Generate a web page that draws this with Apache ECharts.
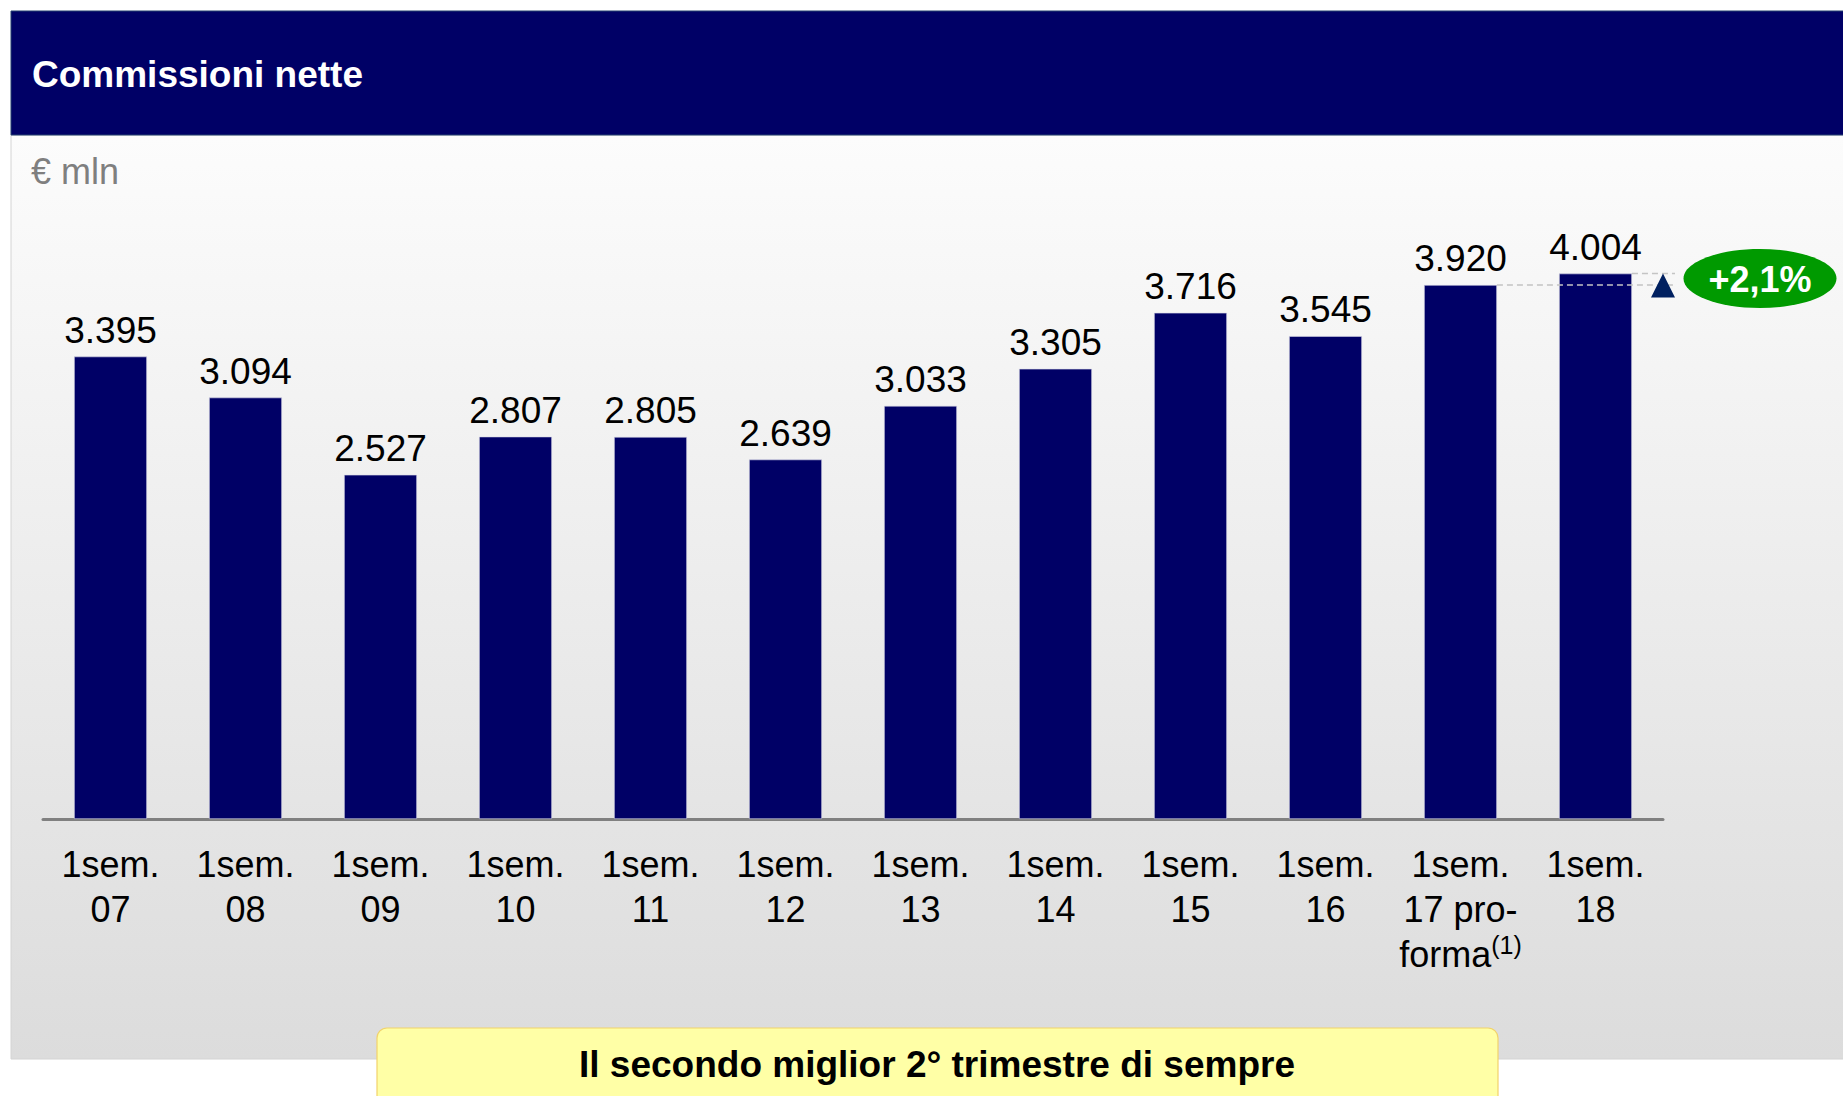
<!DOCTYPE html>
<html>
<head>
<meta charset="utf-8">
<title>Commissioni nette</title>
<script src="https://cdn.jsdelivr.net/npm/echarts@6/dist/echarts.min.js"></script>
<style>
  html, body { margin: 0; padding: 0; background: #fff; }
  #main { width: 1843px; height: 1096px; }
</style>
</head>
<body>
<div id="main"></div>
<script>
var FONT = '"Liberation Sans", Arial, sans-serif';

// dati (€ mln)
var categories = ['1sem.\n07', '1sem.\n08', '1sem.\n09', '1sem.\n10', '1sem.\n11', '1sem.\n12',
                  '1sem.\n13', '1sem.\n14', '1sem.\n15', '1sem.\n16', '1sem.\n17 pro-\nforma(1)', '1sem.\n18'];
var values = [3395, 3094, 2527, 2807, 2805, 2639, 3033, 3305, 3716, 3545, 3920, 4004];
var deltaText = '+2,1%';
var titleText = 'Commissioni nette';
var unitText = '€ mln';
var noteText = 'Il secondo miglior 2° trimestre di sempre';

function fmt(v) {
  return String(v).replace(/\B(?=(\d{3})+(?!\d))/g, '.');
}

var myChart = echarts.init(document.getElementById('main'), null, { renderer: 'svg' });

var option = {
  animation: false,
  grid: { left: 43, right: 180, top: 206, bottom: 277 },
  xAxis: {
    type: 'category',
    data: categories,
    axisLine: { lineStyle: { color: '#808080', width: 3 } },
    axisTick: { show: false },
    axisLabel: {
      interval: 0,
      margin: 23,
      color: '#000',
      fontFamily: FONT,
      fontSize: 36,
      lineHeight: 45,
      formatter: function (v) { return v.replace('(1)', '{sup|(1)}'); },
      rich: {
        sup: { fontSize: 25, lineHeight: 30, verticalAlign: 'top', fontFamily: FONT, color: '#000' }
      }
    }
  },
  yAxis: { type: 'value', min: 0, max: 4500, show: false },
  series: [{
    type: 'bar',
    data: values,
    barWidth: '54%',
    itemStyle: { color: '#000066', borderColor: '#d8d8e8', borderWidth: 0.6 },
    label: {
      show: true,
      position: 'top',
      distance: 8,
      color: '#000',
      fontFamily: FONT,
      fontSize: 37,
      formatter: function (p) { return fmt(p.value); }
    },
    z: 3
  }]
};
myChart.setOption(option);

// annotazioni calcolate dalle scale
var p11 = myChart.convertToPixel({ seriesIndex: 0 }, [10, values[10]]);
var p12 = myChart.convertToPixel({ seriesIndex: 0 }, [11, values[11]]);
var half = (p12[0] - p11[0]) * 0.54 / 2;
var dashEnd = 1675;
var triX = 1663;

var graphics = [
  // fondo pannello
  {
    type: 'rect', z: -20, silent: true,
    shape: { x: 11, y: 135, width: 1843, height: 924 },
    style: {
      fill: new echarts.graphic.LinearGradient(0, 0, 0, 1, [
        { offset: 0, color: '#fcfcfc' },
        { offset: 1, color: '#dcdcdc' }
      ]),
      stroke: '#d4d4d4', lineWidth: 1
    }
  },
  // intestazione
  {
    type: 'rect', z: -10, silent: true,
    shape: { x: 11, y: 11, width: 1843, height: 124 },
    style: { fill: '#000066', stroke: '#24406e', lineWidth: 1 }
  },
  {
    type: 'text', z: 5,
    style: { x: 32, y: 74, text: titleText, fill: '#fff', font: 'bold 37px ' + FONT, verticalAlign: 'middle' }
  },
  {
    type: 'text', z: 5,
    style: { x: 31, y: 171, text: unitText, fill: '#7f7f7f', font: '36px ' + FONT, verticalAlign: 'middle' }
  },
  // linee tratteggiate
  {
    type: 'line', z: 4, silent: true,
    shape: { x1: p11[0] + half, y1: p11[1], x2: dashEnd, y2: p11[1] },
    style: { stroke: '#c4c4c4', lineWidth: 1.5, lineDash: [6, 4] }
  },
  {
    type: 'line', z: 4, silent: true,
    shape: { x1: p12[0] + half, y1: p12[1], x2: dashEnd, y2: p12[1] },
    style: { stroke: '#c4c4c4', lineWidth: 1.5, lineDash: [6, 4] }
  },
  {
    type: 'polygon', z: 5, silent: true,
    shape: { points: [[triX, p12[1]], [triX + 12, p12[1] + 24], [triX - 12, p12[1] + 24]] },
    style: { fill: '#002060' }
  },
  // badge variazione
  {
    type: 'ellipse', z: 5,
    shape: { cx: 1760, cy: 278.5, rx: 76.5, ry: 29.5 },
    style: { fill: '#009a00' }
  },
  {
    type: 'text', z: 6,
    style: { x: 1760, y: 279, text: deltaText, fill: '#fff', font: 'bold 36px ' + FONT, align: 'center', verticalAlign: 'middle' }
  },
  // riquadro giallo
  {
    type: 'rect', z: 5,
    shape: { x: 377, y: 1028, width: 1121, height: 90, r: 10 },
    style: { fill: '#ffffa6', stroke: '#f2d36b', lineWidth: 1.2 }
  },
  {
    type: 'text', z: 6,
    style: { x: 937, y: 1064, text: noteText, fill: '#000', font: 'bold 37px ' + FONT, align: 'center', verticalAlign: 'middle' }
  }
];

myChart.setOption({ graphic: { elements: graphics } });
</script>
</body>
</html>
